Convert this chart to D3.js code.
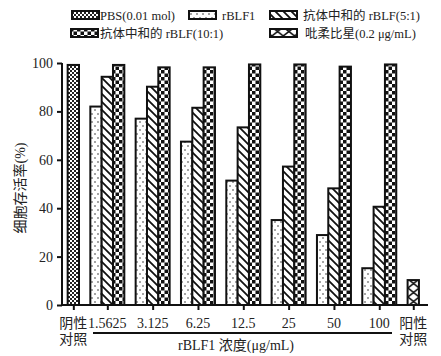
<!DOCTYPE html>
<html><head><meta charset="utf-8">
<script src="https://cdn.jsdelivr.net/npm/d3@7"></script>
<style>
html,body{margin:0;padding:0;background:#fff;}
svg text{font-family:"Liberation Serif","Noto Sans CJK SC",serif;fill:#222;}
</style></head>
<body>
<svg id="c" width="441" height="356"></svg>
<script>
const categories = ["阴性|对照","1.5625","3.125","6.25","12.5","25","50","100","阳性|对照"];
const concLabels = ["1.5625","3.125","6.25","12.5","25","50","100"];
const pbsValues = [99.2];
const rblf1Values = [82, 77, 67.5, 51.4, 35.1, 28.9, 15.2];
const ab51Values = [94.3, 90.2, 81.5, 73.4, 57.2, 48.2, 40.6];
const ab101Values = [99.2, 98.2, 98.2, 99.4, 99.4, 98.5, 99.4];
const posValues = [10.3];
const yTicks = [0, 20, 40, 60, 80, 100];
const seriesNames = ["PBS(0.01 mol)","rBLF1","抗体中和的 rBLF(5:1)","抗体中和的 rBLF(10:1)","吡柔比星(0.2 μg/mL)"];
const yTitle = "细胞存活率(%)";
const xTitle = "rBLF1 浓度(μg/mL)";

const svg = d3.select("#c");
const defs = svg.append("defs");

function pat(id, w, h, draw){
  const p = defs.append("pattern").attr("id", id).attr("patternUnits","userSpaceOnUse")
    .attr("width", w).attr("height", h);
  p.append("rect").attr("width", w).attr("height", h).attr("fill", "#fff");
  draw(p);
}
pat("pPBS", 4, 4, p => {
  p.append("rect").attr("x",0).attr("y",0).attr("width",2).attr("height",2).attr("fill","#222");
  p.append("rect").attr("x",2).attr("y",2).attr("width",2).attr("height",2).attr("fill","#222");
});
pat("pDot", 6, 8, p => {
  p.append("circle").attr("cx",2).attr("cy",2).attr("r",0.8).attr("fill","#333");
  p.append("circle").attr("cx",5).attr("cy",6).attr("r",0.8).attr("fill","#333");
});
pat("pHatch", 8, 8, p => {
  p.append("path").attr("d","M-2,-2 L10,10 M-2,6 L2,10 M6,-2 L10,2").attr("stroke","#111").attr("stroke-width",1.8);
});
pat("pCheck", 7, 7, p => {
  p.append("rect").attr("x",0).attr("y",0).attr("width",3.5).attr("height",3.5).attr("fill","#111");
  p.append("rect").attr("x",3.5).attr("y",3.5).attr("width",3.5).attr("height",3.5).attr("fill","#111");
});
pat("pX", 11.33, 9, p => {
  p.append("path").attr("d","M0,0 L11.33,9 M11.33,0 L0,9").attr("stroke","#111").attr("stroke-width",1.6);
});
const fills = ["url(#pPBS)","url(#pDot)","url(#pHatch)","url(#pCheck)","url(#pX)"];

const x = d3.scaleLinear().domain([0, 32.3]).range([62, 428]);
const y = d3.scaleLinear().domain([0, 100]).range([305, 63]);
const slotW = x(1) - x(0);

const bars = [];
bars.push({slot: 0.5, s: 0, v: pbsValues[0]});
concLabels.forEach((c, i) => {
  const base = 2.5 + 4 * i;
  bars.push({slot: base, s: 1, v: rblf1Values[i]});
  bars.push({slot: base + 1, s: 2, v: ab51Values[i]});
  bars.push({slot: base + 2, s: 3, v: ab101Values[i]});
});
bars.push({slot: 30.5, s: 4, v: posValues[0]});

const groupCenters = [1].concat(concLabels.map((c, i) => 4 + 4 * i)).concat([31]);

svg.append("g").selectAll("rect").data(bars).join("rect")
  .attr("x", d => x(d.slot))
  .attr("y", d => y(d.v))
  .attr("width", slotW)
  .attr("height", d => y(0) - y(d.v))
  .attr("fill", d => fills[d.s])
  .attr("stroke", "#111").attr("stroke-width", 2);

const yAxis = svg.append("g").attr("transform", `translate(${x(0)},0)`)
  .call(d3.axisLeft(y).tickValues(yTicks).tickSize(5).tickPadding(4));
yAxis.select(".domain").attr("stroke","#111").attr("stroke-width",2).attr("d", `M0,${y(100)}V${y(0)}`);
yAxis.selectAll(".tick line").attr("stroke","#111").attr("stroke-width",2);
yAxis.selectAll(".tick text").attr("font-size", 14).attr("font-family","Liberation Serif");

const xAxis = svg.append("g").attr("transform", `translate(0,${y(0)})`)
  .call(d3.axisBottom(x).tickValues(groupCenters).tickSize(5).tickFormat(""));
xAxis.select(".domain").attr("stroke","#111").attr("stroke-width",2).attr("d", `M${x(0)},0H${x(32.3)}`);
xAxis.selectAll(".tick line").attr("stroke","#111").attr("stroke-width",2);

const labG = svg.append("g");
categories.forEach((c, i) => {
  const parts = c.split("|");
  const t = labG.append("text").attr("x", x(groupCenters[i])).attr("y", 328)
    .attr("text-anchor","middle").attr("font-size", 14);
  parts.forEach((p, j) => {
    t.append("tspan").attr("x", x(groupCenters[i])).attr("dy", j === 0 ? 0 : 16).text(p);
  });
});

svg.append("line").attr("x1", 93).attr("x2", 392).attr("y1", 333).attr("y2", 333)
  .attr("stroke","#111").attr("stroke-width",2);
svg.append("text").attr("x", 236).attr("y", 350).attr("text-anchor","middle")
  .attr("font-size", 14).text(xTitle);

svg.append("text").attr("transform", "translate(25,188) rotate(-90)")
  .attr("text-anchor","middle").attr("font-size", 14).text(yTitle);

const legendItems = [
  {s:0, x:72, y:15, tx:100},
  {s:1, x:189, y:15, tx:222},
  {s:2, x:270, y:15, tx:303},
  {s:3, x:71, y:33, tx:100},
  {s:4, x:270, y:33, tx:305}
];
const lg = svg.append("g");
legendItems.forEach(it => {
  lg.append("rect").attr("x", it.x).attr("y", it.y - 4).attr("width", 27).attr("height", 8)
    .attr("fill", fills[it.s]).attr("stroke","#111").attr("stroke-width",2);
  lg.append("text").attr("x", it.tx).attr("y", it.y + 4.5).attr("font-size", 12.5).text(seriesNames[it.s]);
});
</script>
</body></html>
